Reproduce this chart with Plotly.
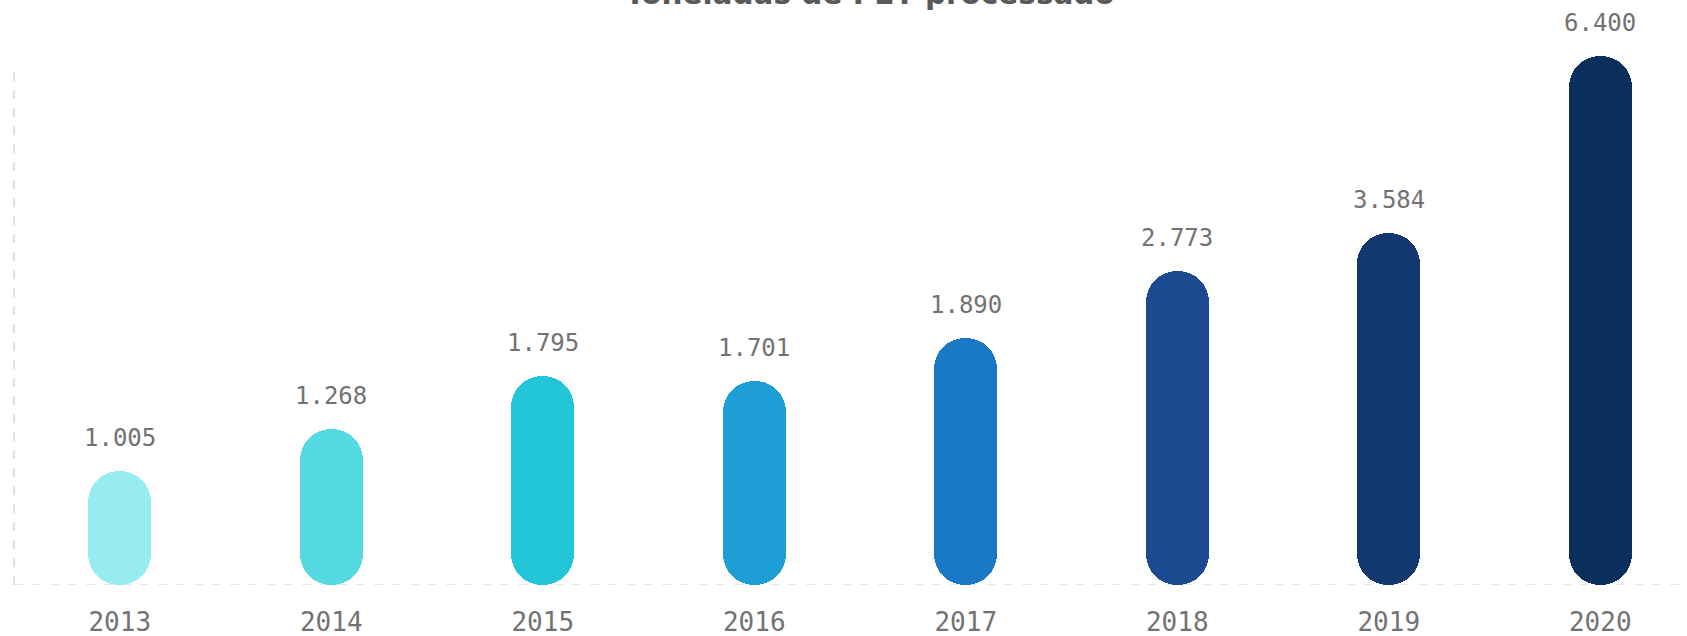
import plotly.graph_objects as go

# ---- data ----
anos = ["2013", "2014", "2015", "2016", "2017", "2018", "2019", "2020"]
toneladas = [1005, 1268, 1795, 1701, 1890, 2773, 3584, 6400]          # value labels
rotulos = ["1.005", "1.268", "1.795", "1.701", "1.890", "2.773", "3.584", "6.400"]
# bar lengths as drawn in the reference (same scale where the 2020 bar = 6400)
comprimento = [1379, 1887, 2529, 2468, 2988, 3799, 4259, 6400]
cores = ["#97ECEF", "#55DAE4", "#23C5D8", "#1E9ED7", "#1A79C6", "#1C4A90", "#133870", "#0A2F5C"]
titulo = "Toneladas de PET processado"

W, H = 1687, 636
ML, MR, MT, MB = 14, 0, 0, 51
plot_h = H - MT - MB
y_top = 7078

fig = go.Figure()
fig.add_trace(go.Bar(
    x=anos, y=comprimento, base=[0] * len(anos),
    width=0.298, marker=dict(color=cores, cornerradius="50%", line=dict(width=0)),
    hoverinfo="skip", showlegend=False,
))

lab_font = dict(family="DejaVu Sans Mono", size=24, color="#727272")
for i, (c, r) in enumerate(zip(comprimento, rotulos)):
    fig.add_annotation(x=i, y=c, text=r, showarrow=False, yanchor="middle",
                       yshift=33, font=lab_font)

# title (cut at top like the reference)
fig.add_annotation(xref="paper", yref="paper", x=(870 - ML) / (W - ML - MR), y=1 + 6.5 / plot_h,
                   text="<b>" + titulo + "</b>", showarrow=False, xanchor="center",
                   yanchor="middle", font=dict(family="DejaVu Sans", size=29.5, color="#595959"))

# dashed baseline and dashed left axis
fig.add_shape(type="line", xref="paper", yref="y", x0=0, x1=1, y0=0, y1=0,
              line=dict(color="#cfcfcf", width=1.2, dash="dash"), layer="below")
fig.add_shape(type="line", xref="paper", yref="paper", x0=0, x1=0, y0=0, y1=(plot_h - 72) / plot_h,
              line=dict(color="#cfcfcf", width=1.2, dash="dash"), layer="below")

fig.update_layout(
    width=W, height=H, barmode="overlay", bargap=0,
    margin=dict(l=ML, r=MR, t=MT, b=MB, pad=0),
    paper_bgcolor="white", plot_bgcolor="white",
    xaxis=dict(type="category", range=[-0.5, 7.41], showgrid=False, zeroline=False,
               showline=False, ticks="", ticklabelstandoff=19,
               tickfont=dict(family="DejaVu Sans Mono", size=26, color="#727272")),
    yaxis=dict(range=[0, y_top], visible=False, showgrid=False, zeroline=False),
)

fig.write_html("out.html", config={"displayModeBar": False},
               post_script="document.body.style.margin='0';document.body.style.overflow='hidden';")
